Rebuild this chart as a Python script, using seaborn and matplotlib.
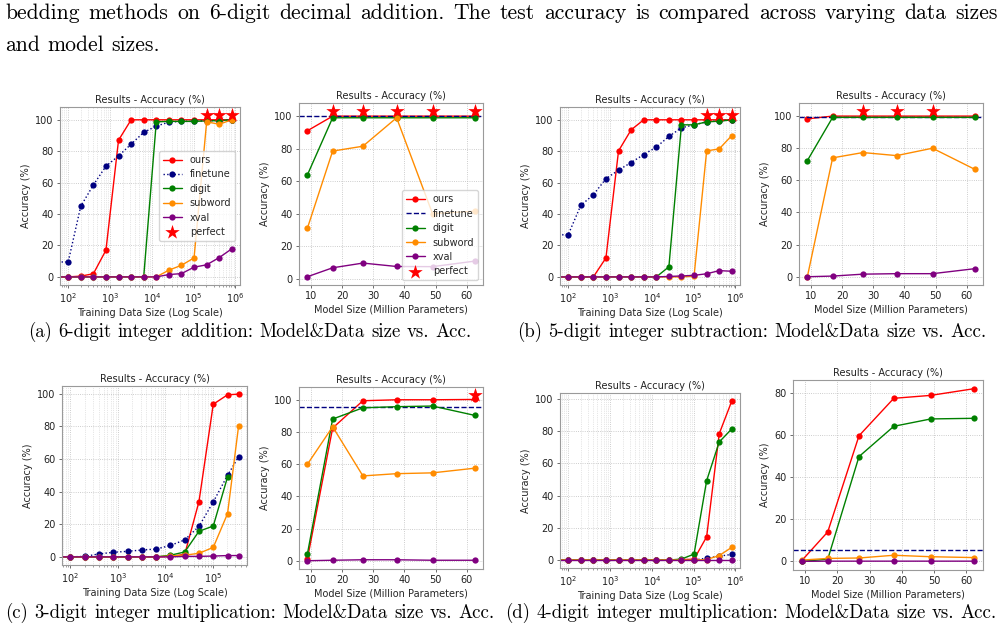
import numpy as np
import matplotlib
matplotlib.use("Agg")
import matplotlib.pyplot as plt
import seaborn as sns

# ----------------------------------------------------------------- text
CAPTION_LINE1 = ("bedding methods on 6-digit decimal addition. The test accuracy "
                 "is compared across varying data sizes")
CAPTION_LINE2 = "and model sizes."
SUBCAPTIONS = [
    "(a) 6-digit integer addition: Model&Data size vs. Acc.",
    "(b) 5-digit integer subtraction: Model&Data size vs. Acc.",
    "(c) 3-digit integer multiplication: Model&Data size vs. Acc.",
    "(d) 4-digit integer multiplication: Model&Data size vs. Acc.",
]
TITLE = "Results - Accuracy (%)"
YLABEL = "Accuracy (%)"
XLABEL_DATA = "Training Data Size (Log Scale)"
XLABEL_MODEL = "Model Size (Million Parameters)"
METHODS = ["ours", "finetune", "digit", "subword", "xval"]

# ----------------------------------------------------------------- data
DATA_SIZES = [0, 100, 200, 400, 800, 1600, 3200, 6400, 12800, 25600,
              51200, 102400, 204800, 409600, 819200]
DATA_SIZES_MUL3 = [0, 100, 200, 400, 800, 1600, 3200, 6400, 12800, 25600,
                   51200, 102400, 204800, 350000]
MODEL_SIZES = [8.9, 17.0, 26.7, 37.5, 49.0, 62.5]
PERFECT_Y = 103

# (a) 6-digit integer addition
A_DATA_OURS = [0, 0, 0.5, 2, 17, 87, 100, 100, 100, 100, 100, 100, 100, 100, 100]
A_DATA_FINETUNE = [9.5, 9.5, 45, 58.5, 70.5, 77, 84.5, 92, 96, 98.5, 99, 99, 99.5, 99.5, 100]
A_DATA_DIGIT = [0, 0, 0, 0, 0, 0, 0, 0, 98.7, 99, 99, 99, 99.3, 99.5, 100]
A_DATA_SUBWORD = [0, 0, 0, 0, 0, 0, 0, 0, 0, 4.3, 7.4, 12.1, 98.7, 97.2, 100]
A_DATA_XVAL = [0, 0, 0, 0, 0, 0, 0, 0, 0, 1.5, 2.1, 6.2, 7.7, 12.3, 17.9]
A_DATA_PERFECT_X = [204800, 409600, 819200]

A_MODEL_OURS = [91, 100, 100, 100, 100, 100]
A_MODEL_FINETUNE = 100.0
A_MODEL_DIGIT = [63.8, 99, 99, 99, 99, 99]
A_MODEL_SUBWORD = [31, 78.5, 81.5, 99, 40, 41.5]
A_MODEL_XVAL = [1.2, 6.7, 9.6, 7.5, 7.4, 10.8]
A_MODEL_PERFECT_X = [17.0, 26.7, 37.5, 49.0, 62.5]

# (b) 5-digit integer subtraction
B_DATA_OURS = [0, 0, 0, 0, 12.1, 80.2, 93.6, 100, 100, 100, 100, 100, 100, 100, 100]
B_DATA_FINETUNE = [26.8, 26.8, 45.5, 52.3, 62.5, 68, 72.8, 77.9, 82.6, 89.4, 94.9, 96.8, 98.7, 99.3, 100]
B_DATA_DIGIT = [0, 0, 0, 0, 0, 0, 0, 0, 0, 6.4, 96.8, 96.8, 98.7, 99.1, 100]
B_DATA_SUBWORD = [0, 0, 0, 0, 0, 0, 0, 0, 0, 0, 0, 0.5, 80.2, 81.5, 90]
B_DATA_XVAL = [0, 0, 0, 0, 0, 0, 0, 0, 0, 0.3, 0.6, 1.0, 2.0, 4.0, 3.6]
B_DATA_PERFECT_X = [204800, 409600, 819200]

B_MODEL_OURS = [98.3, 100, 100, 100, 100, 100]
B_MODEL_FINETUNE = 99.6
B_MODEL_DIGIT = [72.3, 99.2, 99.2, 99.2, 99.2, 99.2]
B_MODEL_SUBWORD = [0, 74, 77.3, 75.4, 80, 66.9]
B_MODEL_XVAL = [0, 0.4, 1.6, 1.9, 1.9, 5]
B_MODEL_PERFECT_X = [26.7, 37.5, 49.0]

# (c) 3-digit integer multiplication
C_DATA_OURS = [0, 0, 0, 0, 0, 0, 0, 0, 0.3, 1.5, 33.9, 93.6, 99.4, 99.8]
C_DATA_FINETUNE = [0, 0, 0.3, 1.8, 2.8, 3.4, 4.2, 4.8, 7, 10.4, 18.7, 33.7, 50, 61.4]
C_DATA_DIGIT = [0, 0, 0, 0, 0, 0, 0, 0, 1, 3, 15.7, 18.9, 49, np.nan]
C_DATA_SUBWORD = [0, 0, 0, 0, 0, 0, 0, 0, 0.5, 1, 2.2, 5.8, 26.5, 80.3]
C_DATA_XVAL = [0, 0, 0, 0, 0, 0, 0, 0, 0, 0.3, 0.3, 0.5, 0.8, 0.8]
C_DATA_PERFECT_X = []

C_MODEL_OURS = [1, 82.6, 99.6, 100.2, 100.2, 100.4]
C_MODEL_FINETUNE = 95.8
C_MODEL_DIGIT = [4.1, 88.2, 95.2, 95.9, 96.3, 90.5]
C_MODEL_SUBWORD = [60, 83.4, 52.8, 54.2, 54.7, 57.6]
C_MODEL_XVAL = [0, 0.3, 0.6, 0.6, 0.3, 0.3]
C_MODEL_PERFECT_X = [62.5]

# (d) 4-digit integer multiplication
D_DATA_OURS = [0, 0, 0, 0, 0, 0, 0, 0, 0, 0, 0.3, 0.5, 14.4, 78.3, 98.6]
D_DATA_FINETUNE = [0, 0, 0, 0, 0, 0, 0, 0, 0, 0, 0, 0, 1.2, 2.4, 3.5]
D_DATA_DIGIT = [0, 0, 0, 0, 0, 0, 0, 0, 0, 0, 0.6, 3.7, 49.2, 73.2, 81.3]
D_DATA_SUBWORD = [0, 0, 0, 0, 0, 0, 0, 0, 0, 0, 0, 0, 0.3, 2.8, 7.9]
D_DATA_XVAL = [0, 0, 0, 0, 0, 0, 0, 0, 0, 0, 0, 0, 0, 0, 0]
D_DATA_PERFECT_X = []

D_MODEL_OURS = [0.3, 14, 59.7, 77.5, 78.9, 82.1]
D_MODEL_FINETUNE = 5.6
D_MODEL_DIGIT = [0, 1, 49.8, 64.2, 67.7, 68]
D_MODEL_SUBWORD = [0.6, 1.4, 1.6, 2.9, 2.2, 1.8]
D_MODEL_XVAL = [0, 0.1, 0.1, 0.1, 0.1, 0.1]
D_MODEL_PERFECT_X = []

# ----------------------------------------------------------------- style
COLORS = {"ours": "red", "finetune": "navy", "digit": "green",
          "subword": "darkorange", "xval": "purple", "perfect": "red"}
FS = 7
SERIF = "cmr10"

sns.set_style("ticks", rc={
    "axes.edgecolor": "#9a9a9a",
    "axes.linewidth": 0.8,
    "grid.color": "#c4c4c4",
    "grid.linestyle": ":",
    "grid.linewidth": 0.6,
    "xtick.color": "#555555",
    "ytick.color": "#555555",
})
plt.rcParams["font.family"] = ["DejaVu Sans"]

W, H = 1005, 634
fig = plt.figure(figsize=(W / 100, H / 100), dpi=100)


def rect(l, t, r, b):
    return [l / W, 1 - b / H, (r - l) / W, (b - t) / H]


def draw_panel(ax, x, series, log, finetune_const=None, perfect_x=(), legend_loc=None):
    for name in METHODS:
        if name == "finetune" and finetune_const is not None:
            ax.axhline(finetune_const, color=COLORS["finetune"], ls="--", lw=1.0,
                       label="finetune", zorder=2)
            continue
        sns.lineplot(x=x, y=series[name], ax=ax, color=COLORS[name],
                     linestyle=":" if name == "finetune" else "-",
                     marker="o", markersize=4.5, markeredgecolor=COLORS[name],
                     markeredgewidth=0, linewidth=1.0, label=name, legend=False,
                     estimator=None, errorbar=None)
    if len(perfect_x):
        sns.scatterplot(x=list(perfect_x), y=[PERFECT_Y] * len(perfect_x), ax=ax,
                        marker="*", s=120, color=COLORS["perfect"], edgecolor=COLORS["perfect"],
                        linewidth=0, label="perfect", legend=False, zorder=5)
    if log:
        ax.set_xscale("log")
        ax.grid(True, which="major", ls=":", lw=0.6, color="#bdbdbd")
        ax.grid(True, which="minor", axis="x", ls=":", lw=0.5, color="#cfcfcf")
        ax.set_xlabel(XLABEL_DATA, fontsize=FS, labelpad=2)
    else:
        ax.grid(True, which="major", ls=":", lw=0.6, color="#bdbdbd")
        ax.set_xlabel(XLABEL_MODEL, fontsize=FS, labelpad=2)
    ax.set_ylabel(YLABEL, fontsize=FS, labelpad=3)
    ax.set_title(TITLE, fontsize=FS, pad=3, color="#222222")
    ax.tick_params(which="major", labelsize=FS, length=2.5, width=0.6, pad=2,
                   labelcolor="#222222")
    ax.tick_params(which="minor", length=1.5, width=0.4)
    if legend_loc:
        ax.legend(loc=legend_loc, fontsize=FS, framealpha=0.8, edgecolor="#cccccc",
                  fancybox=True, borderpad=0.4, labelspacing=0.45, handletextpad=0.8)


def pack(o, f, d, s, v):
    return {"ours": o, "finetune": f, "digit": d, "subword": s, "xval": v}


ax1 = fig.add_axes(rect(60, 107, 240, 285))
draw_panel(ax1, DATA_SIZES, pack(A_DATA_OURS, A_DATA_FINETUNE, A_DATA_DIGIT, A_DATA_SUBWORD, A_DATA_XVAL),
           log=True, perfect_x=A_DATA_PERFECT_X, legend_loc="center right")
ax2 = fig.add_axes(rect(299, 103, 483, 285))
draw_panel(ax2, MODEL_SIZES, pack(A_MODEL_OURS, None, A_MODEL_DIGIT, A_MODEL_SUBWORD, A_MODEL_XVAL),
           log=False, finetune_const=A_MODEL_FINETUNE, perfect_x=A_MODEL_PERFECT_X, legend_loc="lower right")
ax3 = fig.add_axes(rect(560, 107, 740, 285))
draw_panel(ax3, DATA_SIZES, pack(B_DATA_OURS, B_DATA_FINETUNE, B_DATA_DIGIT, B_DATA_SUBWORD, B_DATA_XVAL),
           log=True, perfect_x=B_DATA_PERFECT_X)
ax4 = fig.add_axes(rect(799, 103, 983, 285))
draw_panel(ax4, MODEL_SIZES, pack(B_MODEL_OURS, None, B_MODEL_DIGIT, B_MODEL_SUBWORD, B_MODEL_XVAL),
           log=False, finetune_const=B_MODEL_FINETUNE, perfect_x=B_MODEL_PERFECT_X)
ax5 = fig.add_axes(rect(62, 386, 247, 565))
draw_panel(ax5, DATA_SIZES_MUL3, pack(C_DATA_OURS, C_DATA_FINETUNE, C_DATA_DIGIT, C_DATA_SUBWORD, C_DATA_XVAL),
           log=True, perfect_x=C_DATA_PERFECT_X)
ax6 = fig.add_axes(rect(299, 387, 483, 569))
draw_panel(ax6, MODEL_SIZES, pack(C_MODEL_OURS, None, C_MODEL_DIGIT, C_MODEL_SUBWORD, C_MODEL_XVAL),
           log=False, finetune_const=C_MODEL_FINETUNE, perfect_x=C_MODEL_PERFECT_X)
ax7 = fig.add_axes(rect(560, 393, 740, 568))
draw_panel(ax7, DATA_SIZES, pack(D_DATA_OURS, D_DATA_FINETUNE, D_DATA_DIGIT, D_DATA_SUBWORD, D_DATA_XVAL),
           log=True, perfect_x=D_DATA_PERFECT_X)
ax8 = fig.add_axes(rect(793, 380, 983, 570))
draw_panel(ax8, MODEL_SIZES, pack(D_MODEL_OURS, None, D_MODEL_DIGIT, D_MODEL_SUBWORD, D_MODEL_XVAL),
           log=False, finetune_const=D_MODEL_FINETUNE, perfect_x=D_MODEL_PERFECT_X)

# ----------------------------------------------------------------- LaTeX-like captions
renderer = fig.canvas.get_renderer()
PT2PX = 100 / 72


def word_widths(words, size):
    out = []
    for w in words:
        t = fig.text(0, 0, w, fontsize=size, family=SERIF)
        out.append(t.get_window_extent(renderer).width)
        t.remove()
    return out


def natural_width(text, size):
    words = text.split()
    return sum(word_widths(words, size)) + (len(words) - 1) * 0.333 * size * PT2PX


def place_words(text, size, x_left, baseline, gap=None, x_right=None):
    words = text.split()
    widths = word_widths(words, size)
    if x_right is not None:
        gap = (x_right - x_left - sum(widths)) / (len(words) - 1)
    elif gap is None:
        gap = 0.333 * size * PT2PX
    x = x_left
    for w, wd in zip(words, widths):
        fig.text(x / W, 1 - baseline / H, w, fontsize=size, family=SERIF,
                 va="baseline", ha="left", color="black")
        x += wd + gap


cap_size = 10 * 155 / natural_width(CAPTION_LINE2, 10)
place_words(CAPTION_LINE1, cap_size, 5, 19, x_right=998)
place_words(CAPTION_LINE2, cap_size, 5, 51)

sub_size = 10 * 490 / natural_width(SUBCAPTIONS[2], 10)
for text, cx, base in zip(SUBCAPTIONS, [250, 752, 250, 751], [337, 337, 618, 618]):
    nw = natural_width(text, sub_size)
    place_words(text, sub_size, cx - nw / 2, base)

fig.savefig("out.png", dpi=100, facecolor="white")
